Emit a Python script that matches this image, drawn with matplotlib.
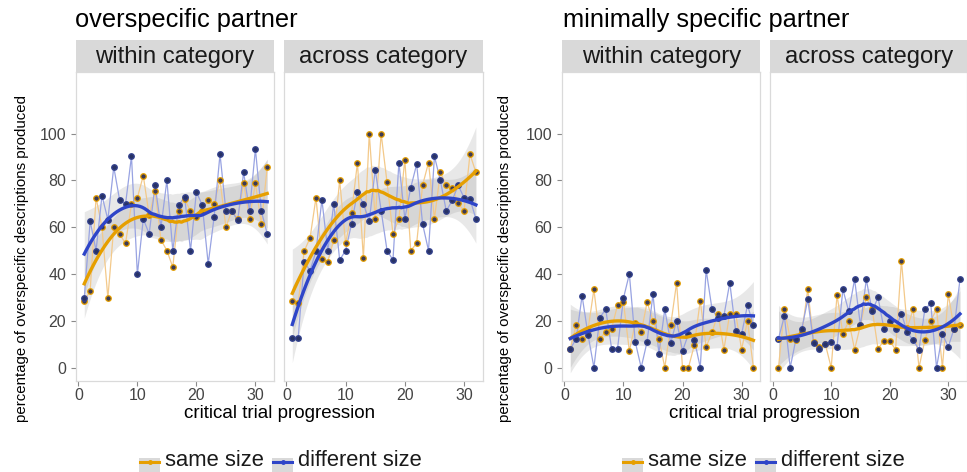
import numpy as np
import matplotlib
matplotlib.use("Agg")
import matplotlib.pyplot as plt
from matplotlib.patches import Rectangle
from matplotlib.lines import Line2D

plt.rcParams['font.family'] = ['Liberation Sans', 'DejaVu Sans']

# trial numbers 1..32
trials = np.arange(1, 33)

# overspecific partner
over_within_same = [28.3, 32.9, 72.6, 60, 29.7, 60, 56.9, 53.1, 70, 72.6, 82, 65, 75.4, 54.6, 50, 42.9,
                    66.9, 72, 66.9, 64.3, 66.9, 71.7, 70, 80, 60, 67, 63.6, 78.9, 63.6, 78.9, 61.4, 85.7]
over_within_diff = [29.8, 62.6, 50, 73.5, 63.2, 85.7, 71.5, 70, 90.3, 39.8, 63.5, 57.2, 77.9, 60, 80, 50,
                    69.3, 73.1, 50, 75.1, 69.3, 44.3, 64.3, 91.2, 66.9, 66.9, 62.9, 83.4, 66.9, 93.4, 66.9, 57.2]
over_across_same = [28.3, 27.4, 49.7, 55.4, 72.6, 46.4, 45.3, 54.6, 80, 53.1, 66, 87.6, 46.7, 100, 63.6, 100,
                    79.1, 57.1, 63.6, 88.9, 50, 53.1, 77.9, 87.6, 63.6, 83.4, 77.9, 76.9, 70.3, 66.9, 91.2, 83.4]
over_across_diff = [12.6, 12.6, 45.3, 41.4, 49.7, 71.7, 49.7, 70, 46, 50, 61.4, 75, 70, 62.6, 84.6, 67.1,
                    50, 46, 87.6, 63.6, 76.9, 86.9, 61.4, 50, 90.3, 80, 66.9, 71.4, 77.9, 72.6, 72, 63.6]

# minimally specific partner
min_within_same = [8.1, 18.1, 12.4, 16, 33.4, 12.4, 15.3, 16.7, 26.7, 28.1, 7.1, 19, 15, 27.9, 20, 12.4,
                   0, 18.1, 36.3, 0, 0, 9.6, 28.6, 8.9, 15, 23.1, 7.7, 23.1, 23.1, 7.7, 20, 0]
min_within_diff = [7.9, 12.4, 30.7, 14.1, 0, 21.4, 24.9, 8.1, 8.1, 29.6, 40, 11, 0, 11, 31.3, 6,
                   24.9, 10.6, 20, 7.1, 14.3, 12, 0, 41.7, 24.9, 21, 22, 36.3, 15.7, 14.3, 26.7, 18.1]
min_across_same = [0, 24.9, 12.4, 12, 15, 33.4, 11, 9, 10, 0, 31, 14.3, 20, 7.7, 18.1, 30,
                   24.9, 8.1, 11.4, 11.4, 7.7, 45.7, 17, 24.9, 0, 11.7, 20, 24.9, 0, 31.4, 16.7, 18]
min_across_diff = [12.4, 22, 0, 12.4, 16.7, 29.1, 10.6, 8.1, 10, 11, 8.9, 33.4, 24, 37.7, 18, 37.7,
                   24, 30, 16.7, 20, 16.7, 23.1, 15, 11.7, 7.7, 24.9, 27.4, 0, 14.3, 8.9, 16.7, 37.7]

group_titles = ["overspecific partner", "minimally specific partner"]
facet_labels = ["within category", "across category"]
legend_labels = ["same size", "different size"]
y_ticks = [0, 20, 40, 60, 80, 100]
x_ticks = [0, 10, 20, 30]

orange = "#E69F00"
blue = "#2E45C8"


def loess(x, y, xs, span=0.75):
    # local quadratic fit with tricube weights (like R's loess default)
    x = np.asarray(x, float)
    y = np.asarray(y, float)
    n = len(x)
    q = int(np.floor(n * span))

    def lrow(x0):
        d = np.abs(x - x0)
        h = np.sort(d)[q - 1]
        w = np.clip(1 - (d / h) ** 3, 0, None) ** 3
        X = np.vstack([np.ones(n), x - x0, (x - x0) ** 2]).T
        A = X.T @ (w[:, None] * X)
        return np.linalg.solve(A, X.T * w)[0]

    L = np.array([lrow(v) for v in x])
    res = y - L @ y
    df = n - np.trace(L)
    sigma = np.sqrt(np.sum(res ** 2) / df)
    Ls = np.array([lrow(v) for v in xs])
    fit = Ls @ y
    se = sigma * np.sqrt(np.sum(Ls ** 2, axis=1))
    return fit, 2.05 * se


W, H = 967, 472


def rect(l, r, t, b):
    return [l / W, 1 - b / H, (r - l) / W, (b - t) / H]


fig = plt.figure(figsize=(W / 100, H / 100), dpi=100)

panels = [
    (76, 274.3, over_within_same, over_within_diff, 0, True),
    (284, 483, over_across_same, over_across_diff, 1, False),
    (562, 760.5, min_within_same, min_within_diff, 0, True),
    (770.3, 967, min_across_same, min_across_diff, 1, False),
]

xs = np.linspace(1, 32, 80)
for left, right, same, diff, fi, first in panels:
    ax = fig.add_axes(rect(left, right, 72, 380.7))
    for vals, lc, ec, mfc in [(same, "#F3C98A", orange, "#3C3A55"),
                              (diff, "#98A3E2", "#34428F", "#283266")]:
        ax.plot(trials, vals, color=lc, lw=0.9, zorder=2)
        ax.plot(trials, vals, ls="none", marker="o", ms=4.0, mfc=mfc, mec=ec, mew=0.9, zorder=3)
    for vals, c in [(same, orange), (diff, blue)]:
        fit, band = loess(trials, vals, xs)
        ax.fill_between(xs, fit - band, fit + band, color="#999999", alpha=0.22, lw=0, zorder=1)
        ax.plot(xs, fit, color=c, lw=2.4, zorder=4)
    ax.set_xlim(-0.4, 33.2)
    ax.set_ylim(-5.6, 126.3)
    ax.set_xticks(x_ticks)
    ax.set_yticks(y_ticks)
    ax.tick_params(colors="#8A8A8A", length=3.5, width=0.8, labelcolor="#444444", labelsize=11.5)
    ax.tick_params(axis="x", pad=1.5)
    if not first:
        ax.tick_params(axis="y", left=False, labelleft=False)
    for s in ax.spines.values():
        s.set_color("#DADADA")
        s.set_linewidth(0.9)
    # facet strip
    sax = fig.add_axes(rect(left, right, 40, 72))
    sax.set_facecolor("#D9D9D9")
    sax.set_xticks([])
    sax.set_yticks([])
    for s in sax.spines.values():
        s.set_visible(False)
    sax.text(0.5, 0.47, facet_labels[fi], ha="center", va="center", fontsize=17.2,
             color="#1A1A1A", transform=sax.transAxes)

for gi, (x0, xc, ylx) in enumerate([(75, 279.5, 22), (563, 764.5, 505)]):
    fig.text(x0 / W, 1 - 20 / H, group_titles[gi], ha="left", va="center", fontsize=18.3)
    fig.text(xc / W, 1 - 413 / H, "critical trial progression", ha="center", va="center", fontsize=13.5)
    fig.text(ylx / W, 1 - 259 / H, "percentage of overspecific descriptions produced",
             rotation=90, ha="center", va="center", fontsize=10.8)

# legends
for kx in [139, 622]:
    positions = [(kx, kx + 26), (kx + 133, kx + 159)]
    for (bx, tx), c, lab in zip(positions, [orange, blue], legend_labels):
        fig.patches.append(Rectangle((bx / W, 0), 21 / W, 14 / H, transform=fig.transFigure,
                                     facecolor="#D9D9D9", edgecolor="none"))
        fig.lines.append(Line2D([(bx + 1) / W, (bx + 20) / W], [1 - 462 / H, 1 - 462 / H],
                                transform=fig.transFigure, color=c, lw=2.2))
        fig.lines.append(Line2D([(bx + 10.5) / W], [1 - 462 / H], transform=fig.transFigure,
                                marker="o", ms=2.5, color=c, mec=c))
        fig.text(tx / W, 1 - 461 / H, lab, ha="left", va="center", fontsize=15.8, color="#1A1A1A")

fig.savefig("out.png", dpi=100)
